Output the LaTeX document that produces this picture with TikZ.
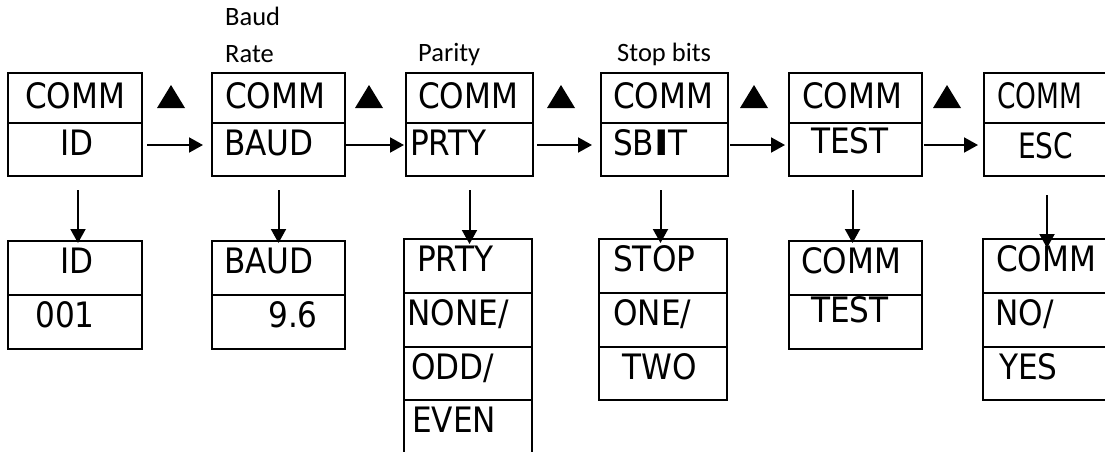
\documentclass[tikz,border=0pt]{standalone}
\usepackage{fontspec}
\setmainfont{Carlito}
\newfontfamily\lcdfont[FakeStretch=0.89]{DejaVu Sans}
\usetikzlibrary{arrows.meta,calc,positioning}
\tikzset{
        cell/.style = {draw, rectangle, line width=2.4pt, inner sep=0pt,
            outer sep=0pt, anchor=north west},
        txt/.style = {inner sep=0pt, anchor=west,
            font=\lcdfont\fontsize{35}{42}\selectfont,
            text height=25.5pt, text depth=14pt},
        note/.style = {inner sep=0pt, anchor=base west,
            font=\fontsize{26.5}{31}\selectfont},
        arrow/.style = {draw, line width=2pt, -{Triangle[length=14pt,width=15pt]}},
    }

\begin{document}
\begin{tikzpicture}[x=1pt, y=-1pt]
  \useasboundingbox (0,0) rectangle (1105,452);
  \clip (0,0) rectangle (1105,452);

  % menu row: COMM / item
  \node[cell, minimum width=134pt, minimum height=50pt] (m1t) at (8,73) {};
  \node[cell, minimum width=134pt, minimum height=53pt, below=0pt of m1t] (m1b) {};
  \node[cell, minimum width=133pt, minimum height=50pt] (m2t) at (212,73) {};
  \node[cell, minimum width=133pt, minimum height=53pt, below=0pt of m2t] (m2b) {};
  \node[cell, minimum width=127pt, minimum height=50pt] (m3t) at (406,73) {};
  \node[cell, minimum width=127pt, minimum height=53pt, below=0pt of m3t] (m3b) {};
  \node[cell, minimum width=127pt, minimum height=50pt] (m4t) at (601,73) {};
  \node[cell, minimum width=127pt, minimum height=53pt, below=0pt of m4t] (m4b) {};
  \node[cell, minimum width=133pt, minimum height=50pt] (m5t) at (789,73) {};
  \node[cell, minimum width=133pt, minimum height=53pt, below=0pt of m5t] (m5b) {};
  \node[cell, minimum width=126pt, minimum height=50pt] (m6t) at (984,73) {};
  \node[cell, minimum width=126pt, minimum height=53pt, below=0pt of m6t] (m6b) {};

  \node[txt, right=17pt of m1t.west, yshift=-4.5pt] (l1t) {COMM};
  \node[txt, right=52pt of m1b.west] (l1b) {ID};
  \node[txt, right=13pt of m2t.west, yshift=-4.5pt] (l2t) {COMM};
  \node[txt, right=12pt of m2b.west] (l2b) {BAUD};
  \node[txt, right=12pt of m3t.west, yshift=-4.5pt] (l3t) {COMM};
  \node[txt, right=4pt of m3b.west] (l3b) {PRTY};
  \node[txt, right=12pt of m4t.west, yshift=-4.5pt] (l4t) {COMM};
  \node[txt, right=12pt of m4b.west] (l4b) {SB\scalebox{1.25}[1]{\bfseries I}T};
  \node[txt, right=13pt of m5t.west, yshift=-4.5pt] (l5t) {COMM};
  \node[txt, right=22pt of m5b.west, yshift=1.5pt] (l5b) {TEST};
  \node[txt, right=13pt of m6t.west, yshift=-4.5pt] (l6t) {\scalebox{0.85}[1]{COMM}};
  \node[txt, right=34pt of m6b.west, yshift=-3.5pt] (l6b) {\scalebox{0.9}[1]{ESC}};

  % captions over the menus
  \node[note] (baud) at (225,26) {Baud};
  \node[note] (rate) at (225,63) {Rate};
  \node[note] (parity) at (418,62) {Parity};
  \node[note] (stop) at (617,62) {Stop bits};

  % arrow up keys
  \fill (157,108) -- (185,108) -- (171,85) -- cycle;
  \fill (355,108) -- (383,108) -- (369,85) -- cycle;
  \fill (547,108) -- (575,108) -- (561,85) -- cycle;
  \fill (740,108) -- (768,108) -- (754,85) -- cycle;
  \fill (933,108) -- (961,108) -- (947,85) -- cycle;

  % settings row
  \node[cell, minimum width=134pt, minimum height=54pt] (s1a) at (8,241) {};
  \node[cell, minimum width=134pt, minimum height=54pt, below=0pt of s1a] (s1b) {};
  \node[cell, minimum width=133pt, minimum height=54pt] (s2a) at (212,241) {};
  \node[cell, minimum width=133pt, minimum height=54pt, below=0pt of s2a] (s2b) {};
  \node[cell, minimum width=128pt, minimum height=54pt] (s3a) at (404,239) {};
  \node[cell, minimum width=128pt, minimum height=54pt, below=0pt of s3a] (s3b) {};
  \node[cell, minimum width=128pt, minimum height=53pt, below=0pt of s3b] (s3c) {};
  \node[cell, minimum width=128pt, minimum height=60pt, below=0pt of s3c] (s3d) {};
  \node[cell, minimum width=128pt, minimum height=54pt] (s4a) at (599,239) {};
  \node[cell, minimum width=128pt, minimum height=54pt, below=0pt of s4a] (s4b) {};
  \node[cell, minimum width=128pt, minimum height=53pt, below=0pt of s4b] (s4c) {};
  \node[cell, minimum width=133pt, minimum height=54pt] (s5a) at (789,241) {};
  \node[cell, minimum width=133pt, minimum height=54pt, below=0pt of s5a] (s5b) {};
  \node[cell, minimum width=128pt, minimum height=54pt] (s6a) at (983,239) {};
  \node[cell, minimum width=128pt, minimum height=54pt, below=0pt of s6a] (s6b) {};
  \node[cell, minimum width=128pt, minimum height=53pt, below=0pt of s6b] (s6c) {};

  \node[txt, right=52pt of s1a.west] (v1a) {ID};
  \node[txt, right=27pt of s1b.west] (v1b) {001};
  \node[txt, right=12pt of s2a.west] (v2a) {BAUD};
  \node[txt, right=56pt of s2b.west] (v2b) {9.6};
  \node[txt, right=13pt of s3a.west] (v3a) {PRTY};
  \node[txt, right=3pt of s3b.west] (v3b) {NONE/};
  \node[txt, right=7pt of s3c.west] (v3c) {ODD/};
  \node[txt, right=8pt of s3d.north west, yshift=-26.5pt] (v3d) {EVEN};
  \node[txt, right=14pt of s4a.west] (v4a) {STOP};
  \node[txt, right=14pt of s4b.west] (v4b) {ONE/};
  \node[txt, right=23pt of s4c.west] (v4c) {TWO};
  \node[txt, right=12pt of s5a.west] (v5a) {COMM};
  \node[txt, right=22pt of s5b.west, yshift=5pt] (v5b) {TEST};
  \node[txt, right=13pt of s6a.west] (v6a) {COMM};
  \node[txt, right=12pt of s6b.west] (v6b) {NO/};
  \node[txt, right=16pt of s6c.west] (v6c) {YES};

  % next item
  \draw[arrow, shorten <=5pt, shorten >=9pt] ([yshift=4.5pt]m1b.east) -- ([yshift=4.5pt]m2b.west);
  \draw[arrow, shorten <=1pt, shorten >=2pt] ([yshift=4.5pt]m2b.east) -- ([yshift=4.5pt]m3b.west);
  \draw[arrow, shorten <=4pt, shorten >=9pt] ([yshift=4.5pt]m3b.east) -- ([yshift=4.5pt]m4b.west);
  \draw[arrow, shorten <=2pt, shorten >=4pt] ([yshift=4.5pt]m4b.east) -- ([yshift=4.5pt]m5b.west);
  \draw[arrow, shorten <=2pt, shorten >=6pt] ([yshift=4.5pt]m5b.east) -- ([yshift=4.5pt]m6b.west);

  % enter
  \draw[arrow, shorten <=14pt, shorten >=-2pt] ([xshift=3pt]m1b.south) -- ([xshift=3pt]s1a.north);
  \draw[arrow, shorten <=14pt, shorten >=-2pt] (m2b.south) -- (s2a.north);
  \draw[arrow, shorten <=14pt, shorten >=-5pt] (m3b.south) -- (m3b.south |- s3a.north);
  \draw[arrow, shorten <=14pt, shorten >=-4pt] ([xshift=-4pt]m4b.south) -- ([xshift=-4pt]m4b.south |- s4a.north);
  \draw[arrow, shorten <=14pt, shorten >=-2pt] ([xshift=-3pt]m5b.south) -- ([xshift=-3pt]s5a.north);
  \draw[arrow, shorten <=19pt, shorten >=-9pt] (m6b.south) -- (s6a.north);
\end{tikzpicture}
\end{document}
